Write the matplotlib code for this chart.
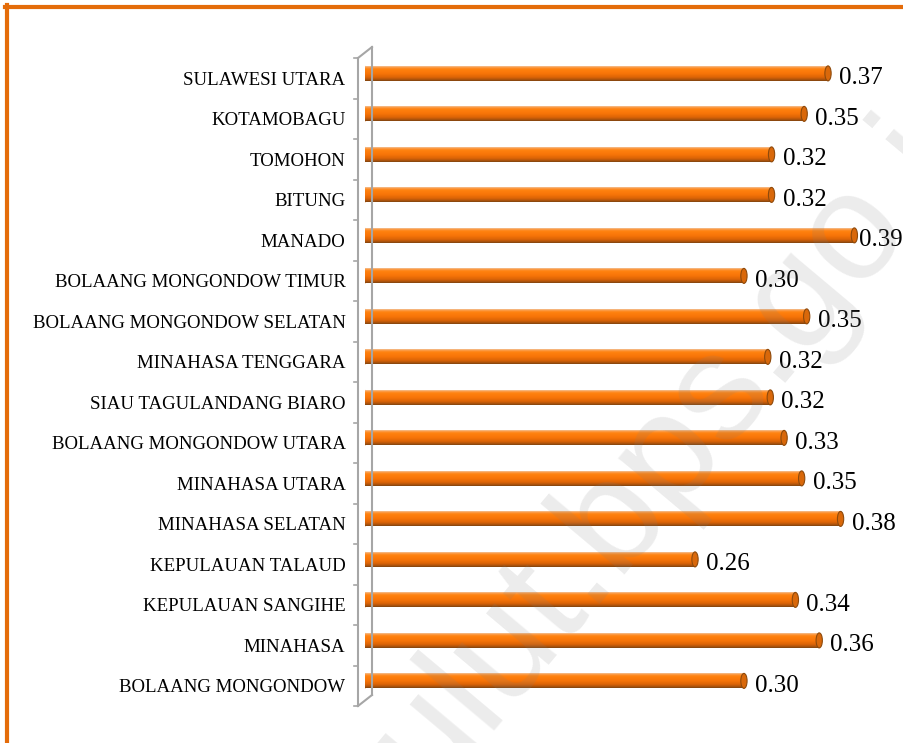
import matplotlib.pyplot as plt
import numpy as np
from matplotlib.patches import Ellipse
from matplotlib.lines import Line2D
from matplotlib.colors import to_rgb

# regions, listed bottom to top as they appear on the chart
regions = [
    "BOLAANG MONGONDOW",
    "MINAHASA",
    "KEPULAUAN SANGIHE",
    "KEPULAUAN TALAUD",
    "MINAHASA SELATAN",
    "MINAHASA UTARA",
    "BOLAANG MONGONDOW UTARA",
    "SIAU TAGULANDANG BIARO",
    "MINAHASA TENGGARA",
    "BOLAANG MONGONDOW SELATAN",
    "BOLAANG MONGONDOW TIMUR",
    "MANADO",
    "BITUNG",
    "TOMOHON",
    "KOTAMOBAGU",
    "SULAWESI UTARA",
]
values = [0.302, 0.362, 0.343, 0.263, 0.379, 0.348, 0.334, 0.323,
          0.321, 0.352, 0.302, 0.390, 0.324, 0.324, 0.350, 0.369]

W, H = 904, 743
fig = plt.figure(figsize=(W / 100, H / 100), dpi=100)
fig.patch.set_facecolor("white")

# axes box in pixels: x from bar origin, y between the first and last slot boundary
ax = fig.add_axes([365 / W, (H - 706) / H, 527 / W, 648 / H])
ax.patch.set_alpha(0)
for s in ax.spines.values():
    s.set_visible(False)
ax.set_xticks([])

ypos = np.arange(len(regions))
ax.set_yticks(ypos)
ax.set_yticklabels(regions, fontfamily="Liberation Serif", fontsize=13.6)
ax.tick_params(axis="y", length=0, pad=14)

# cylinder shading, top to bottom
stop_pos = [0.0, 0.08, 0.2, 0.5, 0.75, 0.9, 1.0]
stop_col = ["#f3c49a", "#fb9a45", "#ff820f", "#f87508", "#dc6406", "#b0540c", "#7e4410"]
rgb = np.array([to_rgb(c) for c in stop_col])
fine = np.linspace(0, 1, 60)
grad = np.stack([np.interp(fine, stop_pos, rgb[:, k]) for k in range(3)], axis=1)[:, None, :]

bar_h = 0.37
lift = 0.12  # 3d depth shifts bars a bit upward
cap_w = 0.0050
labels = []
for y, v in zip(ypos, values):
    yc = y + lift
    ax.add_patch(Ellipse((0, yc), cap_w, bar_h, facecolor="#f07408", edgecolor="none", zorder=1))
    ax.imshow(grad, extent=(0, v, yc - bar_h / 2, yc + bar_h / 2), aspect="auto",
              origin="upper", zorder=2, interpolation="bilinear")
    ax.add_patch(Ellipse((v, yc), cap_w, bar_h, facecolor="#d9680a", edgecolor="#8e4a0c",
                         linewidth=0.8, zorder=3))
    t = ax.annotate(f"{v:.2f}", xy=(v, y), xytext=(8, 0), textcoords="offset points",
                    va="center", ha="left", fontfamily="Liberation Serif", fontsize=18)
    labels.append(t)

ax.set_xlim(0, 0.42)
ax.set_ylim(-0.5, len(regions) - 0.5)

# keep labels inside the figure like the original (pull back the ones that overflow)
fig.canvas.draw()
r = fig.canvas.get_renderer()
for t in labels:
    bb = t.get_window_extent(r)
    over = bb.x1 - (W - 1)
    if over > 0:
        ox, oy = t.xyann
        t.xyann = (ox - over * 72 / 100, oy)


def px(x, y):
    return x / W, 1 - y / H


# 3d axis wall edge
gray = "#a6a6a6"
for (x0, y0), (x1, y1) in [((358, 58), (358, 706)), ((372, 47), (372, 695)),
                           ((358, 58), (372, 47)), ((358, 706), (372, 695))]:
    a, b = px(x0, y0)
    c, d = px(x1, y1)
    fig.add_artist(Line2D([a, c], [b, d], color=gray, linewidth=1.5))
for k in range(len(regions) + 1):
    yb = 706 - k * 648 / len(regions)
    a, b = px(354, yb)
    c, d = px(358, yb)
    fig.add_artist(Line2D([a, c], [b, d], color=gray, linewidth=1.2))

# orange frame (left and top edges)
orange = "#e46c0a"
fig.add_artist(Line2D([7 / W, 7 / W], [0, 1 - 5 / H], color=orange, linewidth=3))
fig.add_artist(Line2D([5 / W, 1], [1 - 7 / H, 1 - 7 / H], color=orange, linewidth=3))

# watermark
fig.text(700 / W, 1 - 480 / H, "sulut.bps.go.id", rotation=50, fontsize=110,
         fontfamily="Liberation Sans", color="gray", alpha=0.15,
         ha="center", va="baseline", rotation_mode="anchor", zorder=10)

fig.savefig("out.png", dpi=100)
